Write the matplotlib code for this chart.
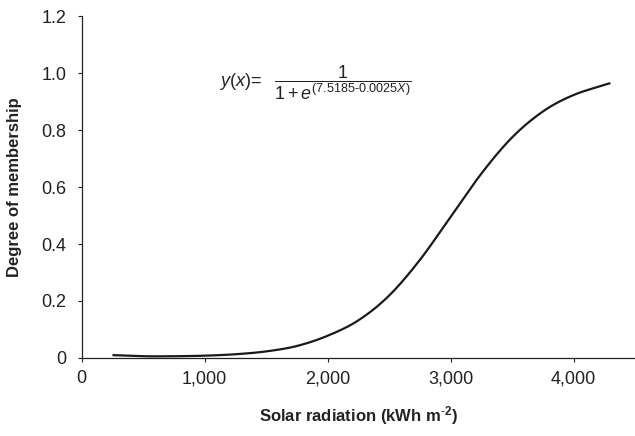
import matplotlib
matplotlib.use('Agg')
import matplotlib.pyplot as plt
import numpy as np

# values
radiation = [250, 500, 750, 1000, 1250, 1500, 1750, 2000, 2250, 2500,
             2750, 3000, 3250, 3500, 3750, 4000, 4300]
membership = [0.010, 0.006, 0.006, 0.008, 0.013, 0.023, 0.042, 0.078, 0.132, 0.219,
              0.344, 0.495, 0.647, 0.774, 0.865, 0.923, 0.965]
x_ticks = [0, 1000, 2000, 3000, 4000]
x_tick_labels = ['0', '1,000', '2,000', '3,000', '4,000']
y_ticks = [0, 0.2, 0.4, 0.6, 0.8, 1.0, 1.2]
y_tick_labels = ['0', '0.2', '0.4', '0.6', '0.8', '1.0', '1.2']

FONT = ['Liberation Sans', 'DejaVu Sans']
plt.rcParams['font.family'] = FONT
plt.rcParams['mathtext.fontset'] = 'custom'
plt.rcParams['mathtext.rm'] = FONT[0]
plt.rcParams['mathtext.it'] = FONT[0] + ':italic'
plt.rcParams['mathtext.bf'] = FONT[0] + ':bold'


def smooth(xs, ys, n=20):
    # Catmull-Rom style smoothing, like a spreadsheet "smoothed line"
    xs = np.asarray(xs, float)
    ys = np.asarray(ys, float)
    px = np.concatenate([[2 * xs[0] - xs[1]], xs, [2 * xs[-1] - xs[-2]]])
    py = np.concatenate([[2 * ys[0] - ys[1]], ys, [2 * ys[-1] - ys[-2]]])
    outx, outy = [], []
    t = np.linspace(0, 1, n, endpoint=False)
    for i in range(1, len(px) - 2):
        for p, out in ((px, outx), (py, outy)):
            p0, p1, p2, p3 = p[i - 1], p[i], p[i + 1], p[i + 2]
            out.extend(0.5 * ((2 * p1) + (-p0 + p2) * t
                              + (2 * p0 - 5 * p1 + 4 * p2 - p3) * t ** 2
                              + (-p0 + 3 * p1 - 3 * p2 + p3) * t ** 3))
    outx.append(xs[-1])
    outy.append(ys[-1])
    return np.array(outx), np.array(outy)


fig = plt.figure(figsize=(6.35, 4.36), dpi=100)
ax = fig.add_axes([0.1287, 0.179, 0.8713, 0.784])

sx, sy = smooth(radiation, membership)
ax.plot(sx, sy, color='#1a1a1a', linewidth=1.6, solid_capstyle='butt')

ax.set_xlim(0, 4500)
ax.set_ylim(0, 1.2)
ax.set_xticks(x_ticks)
ax.set_xticklabels(x_tick_labels)
ax.set_yticks(y_ticks)
ax.set_yticklabels(y_tick_labels)
ax.tick_params(direction='out', length=3, width=0.8, labelsize=13,
               colors='#222222', pad=6)
ax.tick_params(axis='y', pad=8)
for s in ['top', 'right']:
    ax.spines[s].set_visible(False)
for s in ['left', 'bottom']:
    ax.spines[s].set_linewidth(0.9)
    ax.spines[s].set_color('#222222')

ax.set_xlabel(r'Solar radiation (kWh m$^{\text{-}\mathbf{2}}$)', fontsize=12,
              fontweight='bold', color='#222222', labelpad=12)
ax.set_ylabel('Degree of membership', fontsize=12, fontweight='bold',
              color='#222222', labelpad=14)

ax.text(0.345, 0.81,
        r'$\mathit{y}(\mathit{x})\!=\ \ \dfrac{1}{1+\mathit{e}^{(7.5185\text{-}0.0025\mathit{X})}}$',
        transform=fig.transFigure, fontsize=13, color='#222222',
        ha='left', va='center')

plt.savefig('out.png', dpi=100)
